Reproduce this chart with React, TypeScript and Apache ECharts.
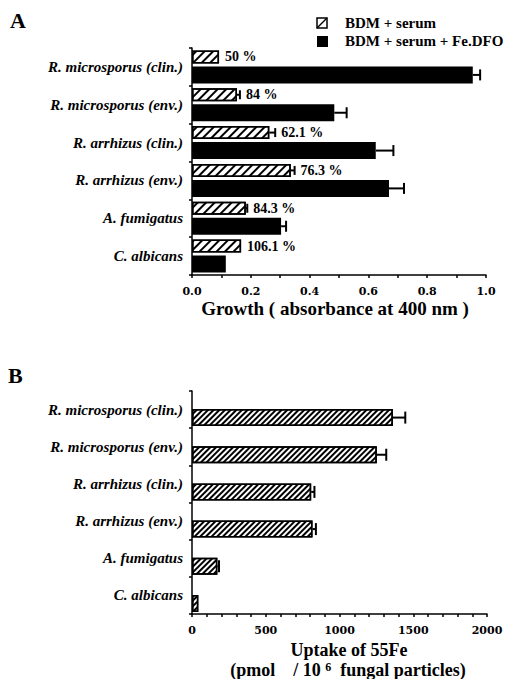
import React, { useEffect, useRef } from 'react';
import * as echarts from 'echarts';

const categories = [
  'R. microsporus (clin.)',
  'R. microsporus (env.)',
  'R. arrhizus (clin.)',
  'R. arrhizus (env.)',
  'A. fumigatus',
  'C. albicans',
];
const growthSerum = [0.092, 0.153, 0.263, 0.336, 0.183, 0.167];
const growthSerumErr = [0, 0.01, 0.02, 0.013, 0.005, 0];
const growthFe = [0.955, 0.484, 0.625, 0.67, 0.303, 0.115];
const growthFeErr = [0.025, 0.042, 0.06, 0.051, 0.017, 0];
const ratioLabels = ['50 %', '84 %', '62.1 %', '76.3 %', '84.3 %', '106.1 %'];
const uptake = [1362, 1253, 808, 817, 172, 43];
const uptakeErr = [84, 64, 22, 23, 11, 0];

const SERIF = 'Liberation Serif';
const TICKFONT = 'DejaVu Serif';

const W1 = 13; // hatched bar width
const W2 = 17; // solid bar width
const GAP = 0.23;
const SUM = W1 * (1 + GAP) + W2 * (1 + GAP) - W2 * GAP;
const OFF1 = -SUM / 2 + W1 / 2;
const OFF2 = -SUM / 2 + W1 * (1 + GAP) + W2 / 2;

function txt(size: number) {
  return { fontFamily: SERIF, fontWeight: 'bold', fontSize: size, fill: '#000' };
}

function errRender(offset: number, capHalf: number, labels?: string[]) {
  return (params: any, api: any) => {
    const cat = api.value(0);
    const v = api.value(1);
    const e = api.value(2);
    const c = api.coord([v, cat]);
    const y = c[1] + offset;
    const children: any[] = [];
    let xEnd = c[0];
    if (e > 0) {
      const c2 = api.coord([v + e, cat]);
      xEnd = c2[0];
      children.push({
        type: 'line',
        shape: { x1: c[0], y1: y, x2: c2[0], y2: y },
        style: { stroke: '#000', lineWidth: 2 },
      });
      children.push({
        type: 'line',
        shape: { x1: c2[0], y1: y - capHalf, x2: c2[0], y2: y + capHalf },
        style: { stroke: '#000', lineWidth: 2 },
      });
    }
    if (labels) {
      children.push({
        type: 'text',
        x: xEnd + 6,
        y: y,
        style: {
          ...txt(14),
          text: labels[params.dataIndex],
          textAlign: 'left',
          textVerticalAlign: 'middle',
          align: 'left',
          verticalAlign: 'middle',
        },
      });
    }
    return { type: 'group', children };
  };
}

const catAxis = (gridIndex: number) => ({
  type: 'category',
  gridIndex,
  data: categories,
  inverse: true,
  axisLine: { show: true, lineStyle: { color: '#000', width: 1.5 } },
  axisTick: { show: true, length: 3, lineStyle: { color: '#000', width: 1.5 } },
  axisLabel: {
    color: '#000',
    fontFamily: SERIF,
    fontStyle: 'italic',
    fontWeight: 'bold',
    fontSize: 15,
    margin: 9,
  },
  splitLine: { show: false },
});

export default function App() {
  const ref = useRef<HTMLDivElement>(null);
  useEffect(() => {
    if (!ref.current) return;
    const chart = echarts.init(ref.current, undefined, { renderer: 'svg' });
    const hatchTop = {
      symbol: 'rect',
      symbolSize: 1,
      dashArrayX: [1, 0],
      dashArrayY: [2, 4],
      rotation: -Math.PI / 4,
      color: '#000',
    };
    const hatchBottom = {
      symbol: 'rect',
      symbolSize: 1,
      dashArrayX: [1, 0],
      dashArrayY: [1.3, 1.7],
      rotation: -Math.PI / 4,
      color: '#000',
    };
    const option: any = {
      animation: false,
      backgroundColor: '#fff',
      grid: [
        { left: 192, top: 48, width: 294, height: 227, outerBoundsMode: 'none' },
        { left: 192, top: 391, width: 295, height: 223, outerBoundsMode: 'none' },
      ],
      xAxis: [
        {
          type: 'value',
          gridIndex: 0,
          min: 0,
          max: 1,
          interval: 0.2,
          axisLine: { show: true, lineStyle: { color: '#000', width: 1.5 } },
          axisTick: { show: true, length: 3, lineStyle: { color: '#000', width: 1.5 } },
          minorTick: { show: true, splitNumber: 2, length: 3, lineStyle: { color: '#000', width: 1.5 } },
          axisLabel: {
            color: '#000',
            fontFamily: TICKFONT,
            fontWeight: 'bold',
            fontSize: 11,
            margin: 11,
            formatter: (v: number) => v.toFixed(1),
          },
          splitLine: { show: false },
        },
        {
          type: 'value',
          gridIndex: 1,
          min: 0,
          max: 2000,
          interval: 500,
          axisLine: { show: true, lineStyle: { color: '#000', width: 1.5 } },
          axisTick: { show: true, length: 3, lineStyle: { color: '#000', width: 1.5 } },
          minorTick: { show: true, splitNumber: 5, length: 3, lineStyle: { color: '#000', width: 1.5 } },
          axisLabel: {
            color: '#000',
            fontFamily: TICKFONT,
            fontWeight: 'bold',
            fontSize: 11,
            margin: 11,
            formatter: (v: number) => String(v),
          },
          splitLine: { show: false },
        },
      ],
      yAxis: [catAxis(0), catAxis(1)],
      series: [
        {
          type: 'bar',
          name: 'BDM + serum',
          xAxisIndex: 0,
          yAxisIndex: 0,
          data: growthSerum,
          barWidth: W1,
          barGap: `${GAP * 100}%`,
          itemStyle: { color: '#fff', borderColor: '#000', borderWidth: 1.5, decal: hatchTop },
        },
        {
          type: 'bar',
          name: 'BDM + serum + Fe.DFO',
          xAxisIndex: 0,
          yAxisIndex: 0,
          data: growthFe,
          barWidth: W2,
          barGap: `${GAP * 100}%`,
          itemStyle: { color: '#000', borderColor: '#000', borderWidth: 0 },
        },
        {
          type: 'custom',
          xAxisIndex: 0,
          yAxisIndex: 0,
          z: 5,
          encode: { x: 1, y: 0 },
          data: growthSerum.map((v, i) => [i, v, growthSerumErr[i]]),
          renderItem: errRender(OFF1, 4.5, ratioLabels),
        },
        {
          type: 'custom',
          xAxisIndex: 0,
          yAxisIndex: 0,
          z: 5,
          encode: { x: 1, y: 0 },
          data: growthFe.map((v, i) => [i, v, growthFeErr[i]]),
          renderItem: errRender(OFF2, 5.5),
        },
        {
          type: 'bar',
          xAxisIndex: 1,
          yAxisIndex: 1,
          data: categories.map(() => '-'),
          barWidth: W1,
          barGap: `${GAP * 100}%`,
        },
        {
          type: 'bar',
          name: 'Uptake of 55Fe',
          xAxisIndex: 1,
          yAxisIndex: 1,
          data: uptake,
          barWidth: W2,
          barGap: `${GAP * 100}%`,
          itemStyle: { color: '#fff', borderColor: '#000', borderWidth: 1.5, decal: hatchBottom },
        },
        {
          type: 'custom',
          xAxisIndex: 1,
          yAxisIndex: 1,
          z: 5,
          encode: { x: 1, y: 0 },
          data: uptake.map((v, i) => [i, v, uptakeErr[i]]),
          renderItem: errRender(OFF2, 6),
        },
      ],
      graphic: [
        {
          type: 'text',
          left: 10,
          top: 9,
          style: { ...txt(22), text: 'A' },
        },
        {
          type: 'text',
          left: 8,
          top: 364,
          style: { ...txt(22), text: 'B' },
        },
        {
          type: 'rect',
          shape: { x: 317, y: 18, width: 10, height: 10 },
          style: { fill: '#fff', stroke: '#000', lineWidth: 1.5 },
        },
        {
          type: 'line',
          shape: { x1: 317, y1: 28, x2: 327, y2: 18 },
          style: { stroke: '#000', lineWidth: 1.5 },
        },
        {
          type: 'rect',
          shape: { x: 317, y: 36, width: 11, height: 11 },
          style: { fill: '#000' },
        },
        {
          type: 'text',
          x: 345,
          y: 23,
          style: { ...txt(15), text: 'BDM + serum', verticalAlign: 'middle', align: 'left' },
        },
        {
          type: 'text',
          x: 345,
          y: 41,
          style: { ...txt(15), text: 'BDM + serum + Fe.DFO', verticalAlign: 'middle', align: 'left' },
        },
        {
          type: 'text',
          x: 335,
          y: 308,
          style: { ...txt(19), text: 'Growth ( absorbance at 400 nm )', align: 'center', verticalAlign: 'middle' },
        },
        {
          type: 'text',
          x: 349,
          y: 650,
          style: { ...txt(18), text: 'Uptake of 55Fe', align: 'center', verticalAlign: 'middle' },
        },
        {
          type: 'text',
          x: 348,
          y: 670,
          style: {
            ...txt(18),
            lineHeight: 18,
            text: '(pmol    / 10 {sup|6}  fungal particles)',
            align: 'center',
            verticalAlign: 'middle',
            rich: {
              sup: { fontSize: 12, lineHeight: 12, fontWeight: 'bold', fontFamily: SERIF, verticalAlign: 'top' },
            },
          },
        },
      ],
    };
    chart.setOption(option);
    return () => chart.dispose();
  }, []);
  return (
    <div
      ref={ref}
      style={{ position: 'fixed', left: 0, top: 0, width: 506, height: 679, background: '#fff' }}
    />
  );
}
